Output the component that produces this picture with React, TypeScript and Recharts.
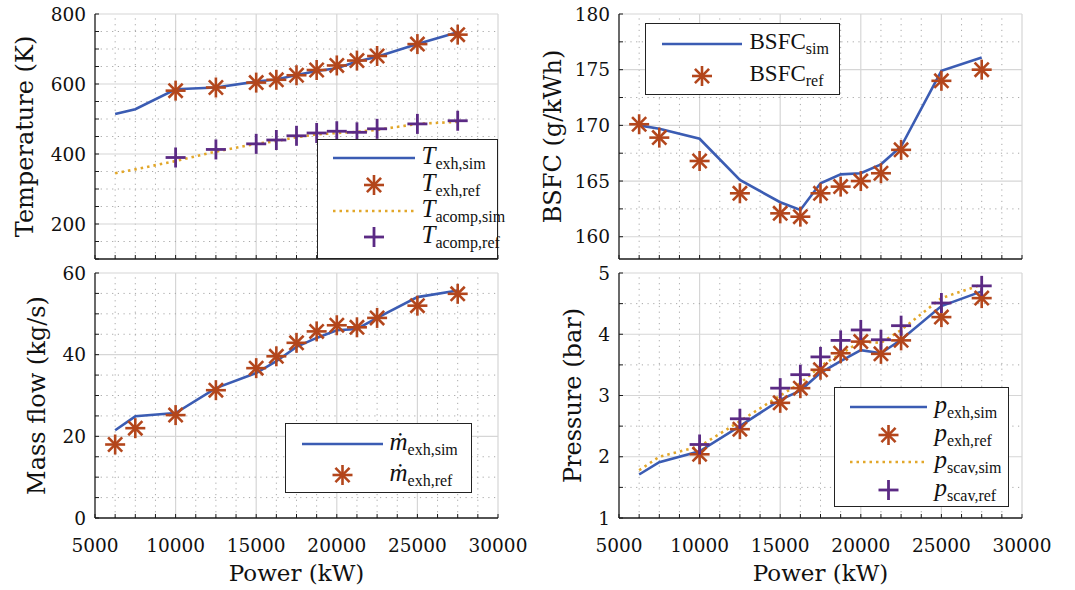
import React from 'react';
import { ComposedChart, Line, Scatter, XAxis, YAxis, ReferenceLine, Label } from 'recharts';

// ---------- data ----------
const power = [6250, 7500, 10000, 12500, 15000, 16250, 17500, 18750, 20000, 21250, 22500, 25000, 27500];
const powerRef = [10000, 12500, 15000, 16250, 17500, 18750, 20000, 21250, 22500, 25000, 27500];

const tExhSim = [514, 528, 585, 590, 607, 613, 626, 637, 645, 664, 678, 714, 748];
const tExhRef = [581, 590, 604, 612, 625, 640, 653, 667, 680, 714, 741];
const tAcompSim = [345, 356, 380, 407, 429, 437, 448, 456, 460, 463, 469, 486, 492];
const tAcompRef = [390, 413, 429, 440, 452, 460, 465, 462, 472, 486, 495];

const bsfcSim = [170.0, 169.7, 168.8, 165.1, 163.1, 162.4, 164.8, 165.6, 165.7, 166.5, 168.1, 174.9, 176.1];
const bsfcRef = [170.1, 168.9, 166.8, 163.9, 162.1, 161.8, 163.9, 164.5, 165.0, 165.7, 167.8, 174.0, 175.0];

const mExhSim = [21.5, 24.9, 25.7, 31.8, 35.5, 38.4, 41.9, 44.1, 46.0, 46.3, 49.0, 54.1, 55.7];
const mExhRef = [18.0, 22.0, 25.2, 31.3, 36.7, 39.6, 42.9, 45.7, 47.2, 46.7, 49.0, 52.0, 54.9];

const pExhSim = [1.71, 1.91, 2.09, 2.50, 2.93, 3.08, 3.37, 3.56, 3.74, 3.69, 3.91, 4.46, 4.70];
const pExhRef = [2.04, 2.45, 2.88, 3.12, 3.42, 3.69, 3.88, 3.68, 3.90, 4.28, 4.59];
const pScavSim = [1.78, 2.0, 2.17, 2.58, 3.0, 3.2, 3.48, 3.68, 3.88, 3.86, 4.07, 4.59, 4.81];
const pScavRef = [2.2, 2.62, 3.12, 3.34, 3.63, 3.9, 4.07, 3.91, 4.14, 4.51, 4.79];

// ---------- ticks ----------
const xTicks = [5000, 6250, 7500, 8750, 10000, 11250, 12500, 13750, 15000, 16250, 17500, 18750, 20000, 21250, 22500, 23750, 25000, 26250, 27500, 28750, 30000];
const xLabels = [5000, 10000, 15000, 20000, 25000, 30000];
const tempTicks = [100, 150, 200, 250, 300, 350, 400, 450, 500, 550, 600, 650, 700, 750, 800];
const tempLabels = [200, 400, 600, 800];
const bsfcTicks = [160, 162.5, 165, 167.5, 170, 172.5, 175, 177.5, 180];
const bsfcLabels = [160, 165, 170, 175, 180];
const massTicks = [0, 5, 10, 15, 20, 25, 30, 35, 40, 45, 50, 55, 60];
const massLabels = [0, 20, 40, 60];
const presTicks = [1, 1.5, 2, 2.5, 3, 3.5, 4, 4.5, 5];
const presLabels = [1, 2, 3, 4, 5];

// ---------- style ----------
const FONT = '"Liberation Serif", "Times New Roman", serif';
const TITLE_FONT = '"DejaVu Serif", serif';
const BLUE = '#3b5cb3';
const ORANGE = '#b3461c';
const YELLOW = '#e2a72a';
const PURPLE = '#5b2a84';
const AXIS = '#1a1a1a';
const MAJOR = '#d6d6d6';
const MINOR = '#a8a8a8';

const zip = (xs: number[], ys: number[]) => xs.map((x, i) => ({ x, y: ys[i] }));

const StarShape = (props: any) => {
  const { cx, cy } = props;
  const r = 10;
  const d = r * 0.7071;
  return (
    <g stroke={ORANGE} strokeWidth={2.6} strokeLinecap="butt">
      <line x1={cx - r} y1={cy} x2={cx + r} y2={cy} />
      <line x1={cx} y1={cy - r} x2={cx} y2={cy + r} />
      <line x1={cx - d} y1={cy - d} x2={cx + d} y2={cy + d} />
      <line x1={cx - d} y1={cy + d} x2={cx + d} y2={cy - d} />
    </g>
  );
};

const PlusShape = (props: any) => {
  const { cx, cy } = props;
  const r = 10;
  return (
    <g stroke={PURPLE} strokeWidth={2.8}>
      <line x1={cx - r} y1={cy} x2={cx + r} y2={cy} />
      <line x1={cx} y1={cy - r} x2={cx} y2={cy + r} />
    </g>
  );
};

const textStyle = (size: number, spacing = 0, family = FONT): React.CSSProperties => ({
  fontFamily: family,
  fontSize: size,
  letterSpacing: spacing,
  fill: '#111',
});

const makeXTick = (showLabel: boolean) => (props: any) => {
  const { x, y, payload } = props;
  const v = payload.value;
  return (
    <g>
      <line x1={x} x2={x} y1={y} y2={y - 4} stroke={AXIS} strokeWidth={1} />
      {showLabel && xLabels.includes(v) ? (
        <text x={x} y={y + 27} textAnchor="middle" dominantBaseline="central" style={textStyle(18.5, 0, TITLE_FONT)}>
          {v}
        </text>
      ) : null}
    </g>
  );
};

const makeYTick = (labels: number[]) => (props: any) => {
  const { x, y, payload } = props;
  const v = payload.value;
  return (
    <g>
      <line x1={x} x2={x + 4} y1={y} y2={y} stroke={AXIS} strokeWidth={1} />
      {labels.includes(v) ? (
        <text x={x - 9} y={y} textAnchor="end" dominantBaseline="central" style={textStyle(18.5, 0, TITLE_FONT)}>
          {v}
        </text>
      ) : null}
    </g>
  );
};

function gridLines(yTicks: number[], yLabels: number[], yMin: number) {
  const els: any[] = [];
  xTicks.forEach((v) => {
    if (v === xTicks[0]) return;
    const major = xLabels.includes(v);
    els.push(
      <ReferenceLine
        key={'gx' + v}
        x={v}
        stroke={major ? MAJOR : MINOR}
        strokeWidth={major ? 1.2 : 1}
        strokeDasharray={major ? undefined : '1.2 4.5'}
        zIndex={-100}
      />
    );
  });
  yTicks.forEach((v) => {
    if (v === yMin) return;
    const major = yLabels.includes(v);
    els.push(
      <ReferenceLine
        key={'gy' + v}
        y={v}
        stroke={major ? MAJOR : MINOR}
        strokeWidth={major ? 1.2 : 1}
        strokeDasharray={major ? undefined : '1.2 4.5'}
        zIndex={-100}
      />
    );
  });
  return els;
}

const yTitle = (text: string, dx: number) => (props: any) => {
  const vb = props.viewBox || { x: 0, y: 0, width: 0, height: 0 };
  const cx = vb.x + dx;
  const cy = vb.y + vb.height / 2;
  return (
    <text
      transform={`translate(${cx}, ${cy}) rotate(-90)`}
      textAnchor="middle"
      dominantBaseline="central"
      style={textStyle(24, 0, TITLE_FONT)}
    >
      {text}
    </text>
  );
};

const xTitle = (props: any) => {
  const vb = props.viewBox || { x: 0, y: 0, width: 0, height: 0 };
  return (
    <text
      x={vb.x + vb.width / 2}
      y={vb.y + 55}
      textAnchor="middle"
      dominantBaseline="central"
      style={textStyle(23, 0, TITLE_FONT)}
    >
      Power (kW)
    </text>
  );
};

type PanelProps = {
  left: number;
  top: number;
  width: number;
  height: number;
  plotLeft: number;
  plotTop: number;
  plotRight: number;
  plotBottom: number;
  yDomain: [number, number];
  yTicks: number[];
  yLabels: number[];
  title: string;
  titleDx: number;
  showX: boolean;
  children: any;
};

function Panel(p: PanelProps) {
  const yAxisWidth = p.plotLeft - p.left;
  const xAxisHeight = p.top + p.height - p.plotBottom;
  return (
    <div style={{ position: 'absolute', left: p.left, top: p.top, width: p.width, height: p.height }}>
      <ComposedChart
        width={p.width}
        height={p.height}
        margin={{ top: p.plotTop - p.top, right: p.left + p.width - p.plotRight, left: 0, bottom: 0 }}
        style={{ fontFamily: FONT }}
      >
        <XAxis
          type="number"
          dataKey="x"
          domain={[5000, 30000]}
          ticks={xTicks}
          interval={0}
          tickSize={0}
          tickMargin={0}
          height={xAxisHeight}
          allowDataOverflow
          axisLine={{ stroke: AXIS, strokeWidth: 1.3 }}
          tickLine={false}
          tick={makeXTick(p.showX)}
        >
          {p.showX ? <Label content={xTitle} /> : null}
        </XAxis>
        <YAxis
          type="number"
          dataKey="y"
          domain={p.yDomain}
          ticks={p.yTicks}
          interval={0}
          tickSize={0}
          tickMargin={0}
          width={yAxisWidth}
          allowDataOverflow
          axisLine={{ stroke: AXIS, strokeWidth: 1.3 }}
          tickLine={false}
          tick={makeYTick(p.yLabels)}
        >
          <Label content={yTitle(p.title, p.titleDx)} />
        </YAxis>
        {gridLines(p.yTicks, p.yLabels, p.yDomain[0])}
        {p.children}
      </ComposedChart>
    </div>
  );
}

const legendText = (main: string, sub: string, italic: boolean) => (
  <span style={{ whiteSpace: 'nowrap' }}>
    <span style={{ fontStyle: italic ? 'italic' : 'normal', fontSize: italic ? 25 : 23 }}>{main}</span>
    <span style={{ fontSize: 16, position: 'relative', top: 5 }}>{sub}</span>
  </span>
);

type Row = { kind: 'line' | 'dots' | 'star' | 'plus'; label: any; y: number };

function LegendBox(props: { x: number; y: number; w: number; h: number; x0: number; x1: number; tx: number; rows: Row[] }) {
  const { x, y, w, h, x0, x1, tx, rows } = props;
  const mid = (x0 + x1) / 2;
  return (
    <div
      style={{
        position: 'absolute',
        left: x,
        top: y,
        width: w,
        height: h,
        boxSizing: 'border-box',
        border: '1.5px solid #222',
        background: '#fff',
        fontFamily: FONT,
        color: '#111',
      }}
    >
      <svg width={w} height={h} style={{ position: 'absolute', left: -1.5, top: -1.5 }}>
        {rows.map((r, i) => {
          if (r.kind === 'line') return <line key={i} x1={x0} x2={x1} y1={r.y} y2={r.y} stroke={BLUE} strokeWidth={2.6} />;
          if (r.kind === 'dots')
            return <line key={i} x1={x0} x2={x1} y1={r.y} y2={r.y} stroke={YELLOW} strokeWidth={2.6} strokeDasharray="2.5 4" />;
          if (r.kind === 'star') return <StarShape key={i} cx={mid} cy={r.y} />;
          return <PlusShape key={i} cx={mid} cy={r.y} />;
        })}
      </svg>
      {rows.map((r, i) => (
        <div
          key={'t' + i}
          style={{ position: 'absolute', left: tx - 1.5, top: r.y - 17 - 1.5, height: 30, lineHeight: '30px' }}
        >
          {r.label}
        </div>
      ))}
    </div>
  );
}

export default function App() {
  return (
    <div style={{ position: 'absolute', left: 0, top: 0, width: 1075, height: 590, background: '#fff', overflow: 'hidden', fontFamily: FONT }}>
      {/* Temperature */}
      <Panel
        left={0}
        top={0}
        width={540}
        height={270}
        plotLeft={95}
        plotTop={14}
        plotRight={498}
        plotBottom={259}
        yDomain={[100, 800]}
        yTicks={tempTicks}
        yLabels={tempLabels}
        title="Temperature (K)"
        titleDx={25}
        showX={false}
      >
        <Line data={zip(power, tAcompSim)} dataKey="y" stroke={YELLOW} strokeWidth={2.6} strokeDasharray="2.5 4" dot={false} isAnimationActive={false} />
        <Line data={zip(power, tExhSim)} dataKey="y" stroke={BLUE} strokeWidth={2.6} dot={false} isAnimationActive={false} />
        <Scatter data={zip(powerRef, tExhRef)} dataKey="y" shape={StarShape} isAnimationActive={false} />
        <Scatter data={zip(powerRef, tAcompRef)} dataKey="y" shape={PlusShape} isAnimationActive={false} />
      </Panel>

      {/* BSFC */}
      <Panel
        left={530}
        top={0}
        width={545}
        height={270}
        plotLeft={619}
        plotTop={14}
        plotRight={1022}
        plotBottom={259}
        yDomain={[158, 180]}
        yTicks={bsfcTicks}
        yLabels={bsfcLabels}
        title="BSFC (g/kWh)"
        titleDx={23}
        showX={false}
      >
        <Line data={zip(power, bsfcSim)} dataKey="y" stroke={BLUE} strokeWidth={2.6} dot={false} isAnimationActive={false} />
        <Scatter data={zip(power, bsfcRef)} dataKey="y" shape={StarShape} isAnimationActive={false} />
      </Panel>

      {/* Mass flow */}
      <Panel
        left={0}
        top={260}
        width={540}
        height={330}
        plotLeft={95}
        plotTop={273}
        plotRight={498}
        plotBottom={518}
        yDomain={[0, 60]}
        yTicks={massTicks}
        yLabels={massLabels}
        title="Mass flow (kg/s)"
        titleDx={37}
        showX={true}
      >
        <Line data={zip(power, mExhSim)} dataKey="y" stroke={BLUE} strokeWidth={2.6} dot={false} isAnimationActive={false} />
        <Scatter data={zip(power, mExhRef)} dataKey="y" shape={StarShape} isAnimationActive={false} />
      </Panel>

      {/* Pressure */}
      <Panel
        left={530}
        top={260}
        width={545}
        height={330}
        plotLeft={619}
        plotTop={273}
        plotRight={1022}
        plotBottom={518}
        yDomain={[1, 5]}
        yTicks={presTicks}
        yLabels={presLabels}
        title="Pressure (bar)"
        titleDx={43}
        showX={true}
      >
        <Line data={zip(power, pScavSim)} dataKey="y" stroke={YELLOW} strokeWidth={2.6} strokeDasharray="2.5 4" dot={false} isAnimationActive={false} />
        <Line data={zip(power, pExhSim)} dataKey="y" stroke={BLUE} strokeWidth={2.6} dot={false} isAnimationActive={false} />
        <Scatter data={zip(powerRef, pExhRef)} dataKey="y" shape={StarShape} isAnimationActive={false} />
        <Scatter data={zip(powerRef, pScavRef)} dataKey="y" shape={PlusShape} isAnimationActive={false} />
      </Panel>

      {/* Legends */}
      <LegendBox
        x={317}
        y={139}
        w={181}
        h={120}
        x0={16}
        x1={98}
        tx={105}
        rows={[
          { kind: 'line', y: 19, label: legendText('T', 'exh,sim', true) },
          { kind: 'star', y: 46, label: legendText('T', 'exh,ref', true) },
          { kind: 'dots', y: 72, label: legendText('T', 'acomp,sim', true) },
          { kind: 'plus', y: 98, label: legendText('T', 'acomp,ref', true) },
        ]}
      />
      <LegendBox
        x={645}
        y={23}
        w={195}
        h={72}
        x0={17}
        x1={97}
        tx={105}
        rows={[
          { kind: 'line', y: 21, label: legendText('BSFC', 'sim', false) },
          { kind: 'star', y: 53, label: legendText('BSFC', 'ref', false) },
        ]}
      />
      <LegendBox
        x={285}
        y={423}
        w={187}
        h={70}
        x0={17}
        x1={98}
        tx={105}
        rows={[
          { kind: 'line', y: 21, label: legendText('ṁ', 'exh,sim', true) },
          { kind: 'star', y: 52, label: legendText('ṁ', 'exh,ref', true) },
        ]}
      />
      <LegendBox
        x={834}
        y={387}
        w={175}
        h={120}
        x0={16}
        x1={93}
        tx={101}
        rows={[
          { kind: 'line', y: 20, label: legendText('p', 'exh,sim', true) },
          { kind: 'star', y: 48, label: legendText('p', 'exh,ref', true) },
          { kind: 'dots', y: 75, label: legendText('p', 'scav,sim', true) },
          { kind: 'plus', y: 103, label: legendText('p', 'scav,ref', true) },
        ]}
      />
    </div>
  );
}
